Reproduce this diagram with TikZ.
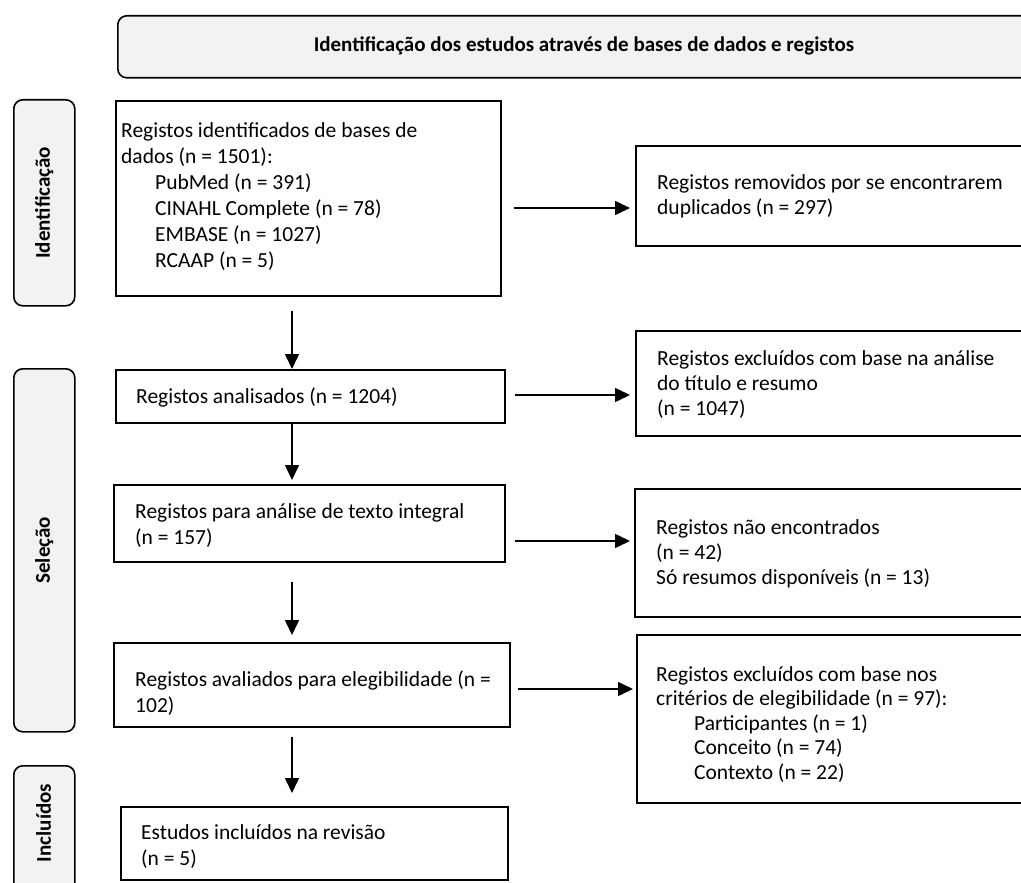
\documentclass[tikz,border=0pt]{standalone}
\usepackage{fontspec}
\setmainfont{Carlito}
\usetikzlibrary{arrows.meta,calc}
\definecolor{phasegray}{HTML}{F2F2F2}
\begin{document}
\begin{tikzpicture}[x=1pt,y=-1pt,
  box/.style={draw, line width=1.6pt, rectangle, inner sep=0pt, anchor=north west},
  phase/.style={draw, line width=1.6pt, fill=phasegray, rounded corners=9pt, inner sep=0pt, anchor=north west},
  txt/.style={anchor=base west, inner sep=0pt, align=left, font=\fontsize{21.5pt}{26pt}\selectfont},
  txtr/.style={txt, font=\fontsize{21.5pt}{25pt}\selectfont},
  lbl/.style={inner sep=0pt, font=\fontsize{21pt}{24pt}\selectfont\bfseries},
  arr/.style={line width=1.6pt, -{Triangle[length=15pt,width=14pt]}}
]
\useasboundingbox (0,0) rectangle (1021,883);
\clip (0,0) rectangle (1021,883);

% header
\node[phase, minimum width=950pt, minimum height=62pt] (hdr) at (117,15) {};
\node[lbl] (hdrt) at (584,46) {Identificação dos estudos através de bases de dados e registos};

% phase boxes
\node[phase, minimum width=61pt, minimum height=206pt] (p1) at (13,99) {};
\node[lbl, rotate=90] (p1t) at (p1.center) {Identificação};
\node[phase, minimum width=61pt, minimum height=363pt] (p2) at (13,368) {};
\node[lbl, rotate=90] (p2t) at (p2.center) {Seleção};
\node[phase, minimum width=61pt, minimum height=200pt] (p3) at (13,765) {};
\node[lbl, rotate=90] (p3t) at (43.5,823) {Incluídos};

% left column boxes (text anchored at the baseline of its last line)
\node[box, minimum width=385pt, minimum height=195pt] (b1) at (115,100) {};
\node[txt] (b1t) at (121,267) {Registos identificados de bases de\\dados (n = 1501):\\\hspace*{34pt}PubMed (n = 391)\\\hspace*{34pt}CINAHL Complete (n = 78)\\\hspace*{34pt}EMBASE (n = 1027)\\\hspace*{34pt}RCAAP (n = 5)};

\node[box, minimum width=389pt, minimum height=53pt] (b2) at (115,369) {};
\node[txt] (b2t) at (136,403) {Registos analisados (n = 1204)};

\node[box, minimum width=391pt, minimum height=77pt] (b3) at (113,484) {};
\node[txt] (b3t) at (135,544) {Registos para análise de texto integral\\(n = 157)};

\node[box, minimum width=396pt, minimum height=84pt] (b4) at (113,642) {};
\node[txt] (b4t) at (135,712) {Registos avaliados para elegibilidade (n =\\102)};

\node[box, minimum width=387pt, minimum height=73pt] (b5) at (120,806) {};
\node[txt] (b5t) at (141,865) {Estudos incluídos na revisão\\(n = 5)};

% right column boxes
\node[box, minimum width=440pt, minimum height=100pt] (r1) at (635,145) {};
\node[txtr] (r1t) at (657,214) {Registos removidos por se encontrarem\\duplicados (n = 297)};

\node[box, minimum width=440pt, minimum height=105pt] (r2) at (635,330) {};
\node[txtr] (r2t) at (657,415) {Registos excluídos com base na análise\\do título e resumo\\(n = 1047)};

\node[box, minimum width=440pt, minimum height=128pt] (r3) at (634,488) {};
\node[txtr] (r3t) at (656,584) {Registos não encontrados\\(n = 42)\\Só resumos disponíveis (n = 13)};

\node[box, minimum width=440pt, minimum height=168pt] (r4) at (636,634) {};
\node[txt, font=\fontsize{21.5pt}{24.5pt}\selectfont] (r4t) at (656,779) {Registos excluídos com base nos\\critérios de elegibilidade (n = 97):\\\hspace*{38pt}Participantes (n = 1)\\\hspace*{38pt}Conceito (n = 74)\\\hspace*{38pt}Contexto (n = 22)};

% helper coordinates for connector positions
\coordinate (vx) at (292,0);
\coordinate (h1) at (0,208);
\coordinate (h2) at (0,395);
\coordinate (h3) at (0,541);
\coordinate (h4) at (0,689);

% vertical arrows
\draw[arr] ([yshift=-14pt]b1.south -| vx) -- (b2.north -| vx);
\draw[arr] (b2.south -| vx) -- ([yshift=4pt]b3.north -| vx);
\draw[arr] ([yshift=-19pt]b3.south -| vx) -- ([yshift=7pt]b4.north -| vx);
\draw[arr] ([yshift=-9pt]b4.south -| vx) -- ([yshift=13pt]b5.north -| vx);

% horizontal arrows
\draw[arr, shorten <=12pt, shorten >=5pt] (b1.east |- h1) -- (r1.west |- h1);
\draw[arr, shorten <=9pt, shorten >=5pt] (b2.east |- h2) -- (r2.west |- h2);
\draw[arr, shorten <=9pt, shorten >=4pt] (b3.east |- h3) -- (r3.west |- h3);
\draw[arr, shorten <=7pt, shorten >=3pt] (b4.east |- h4) -- (r4.west |- h4);
\end{tikzpicture}
\end{document}
